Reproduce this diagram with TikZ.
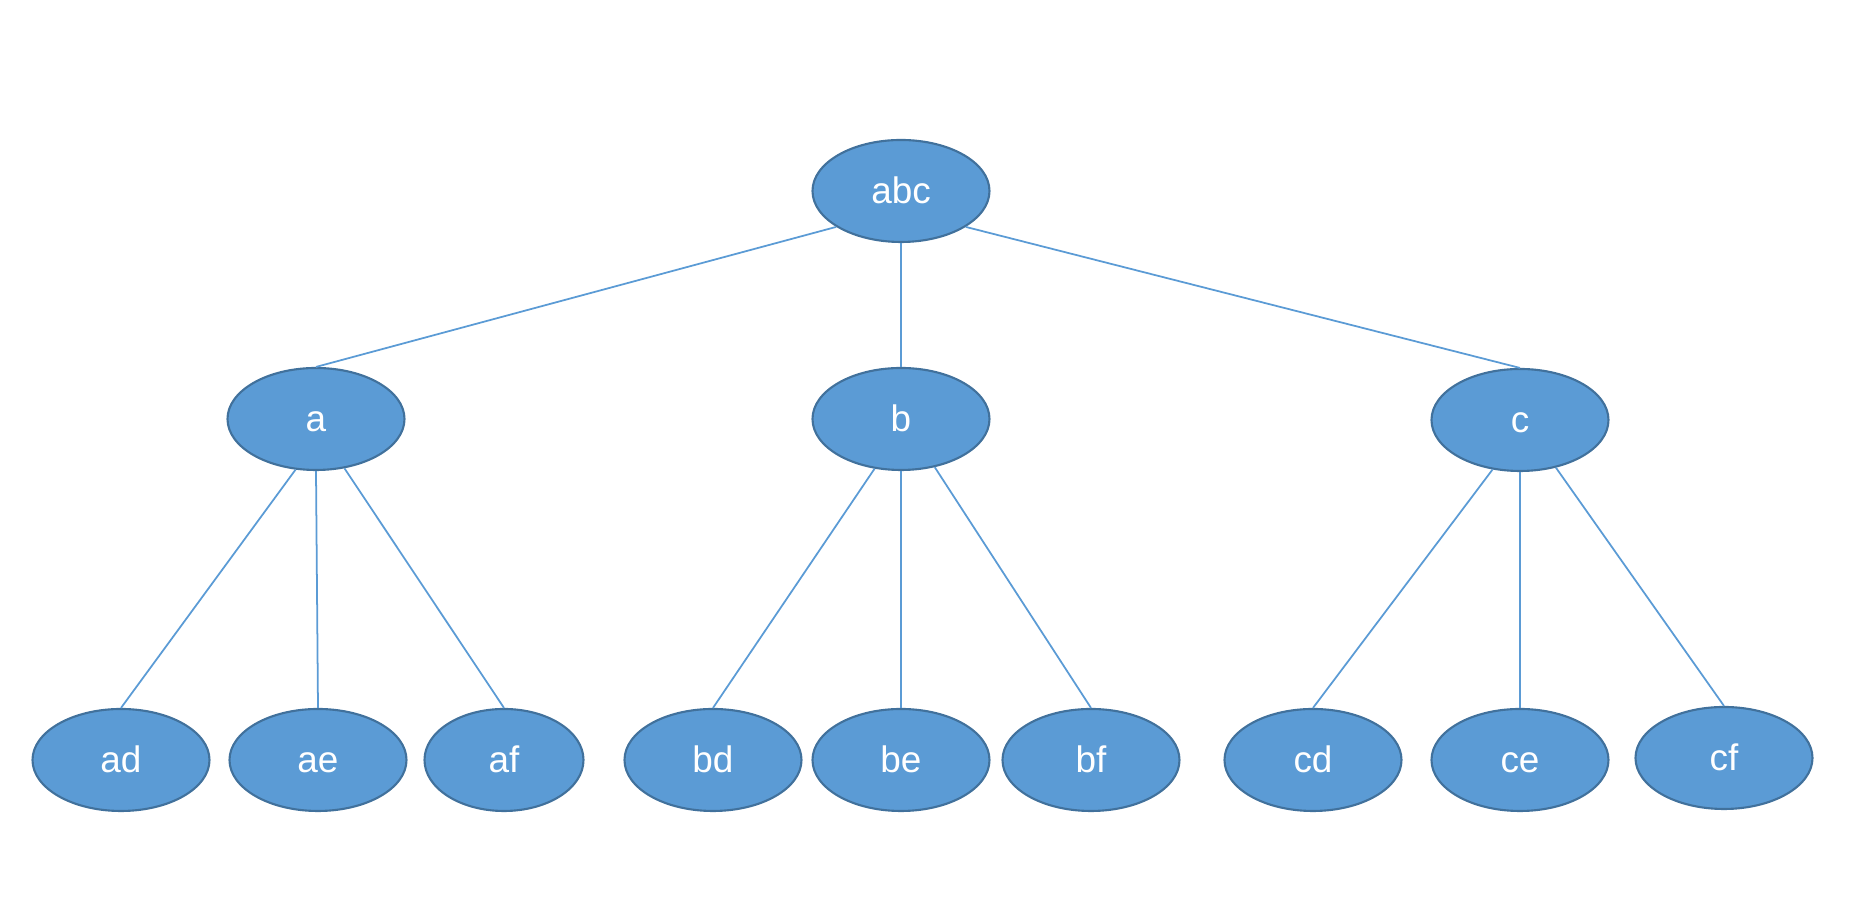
\documentclass[tikz,border=0pt]{standalone}
\usepackage{fontspec}
\setmainfont{Liberation Sans}
\usetikzlibrary{shapes.geometric}

\definecolor{nodefill}{HTML}{5B9BD5}
\definecolor{nodeline}{HTML}{41719C}

\begin{document}
\begin{tikzpicture}[
    font=\fontsize{10.5}{12}\selectfont,
    % Estilos dos nós e das arestas
    vert/.style={ellipse, fill=nodefill, draw=nodeline, line width=0.6pt, inner sep=0pt, minimum width=1.77cm, minimum height=1.02cm, text=white, text height=0.26cm, text depth=0cm},
    edge/.style={draw=nodefill, line width=0.5pt}
]
    \useasboundingbox (0,0) rectangle (18.72,8.98);

    % ================= RAIZ =================
    \node[vert] (abc) at (9.01, 7.07) {abc};

    % ================= NÍVEL 1 =================
    \node[vert] (a) at (3.16, 4.79) {a};
    \node[vert] (b) at (9.01, 4.79) {b};
    \node[vert] (c) at (15.20, 4.78) {c};

    % ================= NÍVEL 2 =================
    \node[vert] (ad) at (1.21, 1.38) {ad};
    \node[vert] (ae) at (3.18, 1.38) {ae};
    \node[vert, minimum width=1.59cm] (af) at (5.04, 1.38) {af};
    \node[vert] (bd) at (7.13, 1.38) {bd};
    \node[vert] (be) at (9.01, 1.38) {be};
    \node[vert] (bf) at (10.91, 1.38) {bf};
    \node[vert] (cd) at (13.13, 1.38) {cd};
    \node[vert] (ce) at (15.20, 1.38) {ce};
    \node[vert] (cf) at (17.24, 1.40) {cf};

    % ================= ARESTAS =================
    \draw[edge] (abc.209) -- (a.north);
    \draw[edge] (abc.south) -- (b.north);
    \draw[edge] (abc.331) -- (c.north);

    \draw[edge] (a.248) -- (ad.north);
    \draw[edge] (a.south) -- (ae.north);
    \draw[edge] (a.300) -- (af.north);

    \draw[edge] (b.242) -- (bd.north);
    \draw[edge] (b.south) -- (be.north);
    \draw[edge] (b.305) -- (bf.north);

    \draw[edge] (c.241) -- (cd.north);
    \draw[edge] (c.south) -- (ce.north);
    \draw[edge] (c.307) -- (cf.north);

\end{tikzpicture}
\end{document}
